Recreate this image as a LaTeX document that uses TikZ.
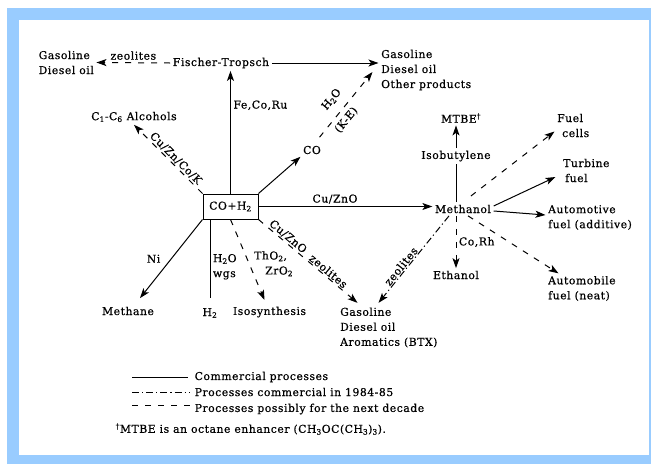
\documentclass[tikz,border=0pt]{standalone}
\usepackage{fontspec}
\setmainfont{DejaVu Serif}[LetterSpace=5,FakeBold=0.6]
\usetikzlibrary{arrows.meta,calc}
\definecolor{framebg}{RGB}{153,204,255}
\newcommand{\subs}[1]{\textsubscript{#1}}

\begin{document}
\begin{tikzpicture}[x=1pt,y=-1pt,
  font=\fontsize{10.8}{15}\selectfont,
  every node/.style={inner sep=2.5pt},
  tip/.style={-{Stealth[length=10pt,width=7pt,inset=2.5pt]}},
  commercial/.style={line width=1pt},
  soon/.style={line width=1pt,dash pattern=on 7pt off 3pt on 1.2pt off 3pt},
  future/.style={line width=1pt,dash pattern=on 6pt off 7pt},
  along/.style={sloped,above,inner sep=1pt}]
\useasboundingbox (0,0) rectangle (651,464);
\fill[white] (0,0) rectangle (651,464);
\fill[framebg] (7,8) rectangle (651,464);
\fill[white] (19,20) rectangle (649,455);

% the feed and products
\node[draw,line width=1pt,minimum width=55pt,minimum height=25pt,inner sep=2pt] (syngas) at (230.5,206.5) {CO+H\subs{2}};
\node (fischer) at (221,63) {Fischer-Tropsch};
\node[anchor=west,align=left] (gasA) at (36,62.5) {Gasoline\\Diesel oil};
\node[anchor=west,align=left] (gasB) at (378.5,70) {Gasoline\\Diesel oil\\Other products};
\node (alcohols) at (134,117) {C\subs{1}-C\subs{6} Alcohols};
\node (co) at (312,150) {CO};
\node (methanol) at (463,209) {Methanol};
\node (isobut) at (456,156) {Isobutylene};
\node (mtbe) at (461,118) {MTBE\textsuperscript{†}};
\node[anchor=west,align=left] (cells) at (554.5,125.5) {Fuel\\\hspace*{5pt}cells};
\node[anchor=west,align=left] (turbine) at (560.5,170.5) {Turbine\\\hspace*{2pt}fuel};
\node[anchor=west,align=left] (automotive) at (545.5,217.5) {Automotive\\fuel (additive)};
\node[anchor=west,align=left] (automobile) at (545.5,288.5) {Automobile\\fuel (neat)};
\node (ethanol) at (456,275) {Ethanol};
\node[anchor=west,align=left] (gasC) at (337.5,327.5) {Gasoline\\Diesel oil\\Aromatics (BTX)};
\node (methane) at (128,311) {Methane};
\node (htwo) at (210,313) {H\subs{2}};
\node (iso) at (269.5,312) {Isosynthesis};

% the routes
\draw[future,tip] (fischer.west) -- (gasA.east) node[midway,above=0pt] {zeolites};
\draw[commercial,tip] (fischer.east) -- (fischer.east -| gasB.west);
\draw[commercial,tip] (syngas.north) -- (syngas.north |- fischer.south) node[pos=.72,right] {Fe,Co,Ru};
\draw[future,tip] (syngas.north west) -- (alcohols.south) node[pos=.45,along] {Cu/Zn/Co/K};
\draw[commercial,tip] (syngas.north east) -- (co.south west);
\draw[future,tip] ([shift={(-4pt,6pt)}]co.north east) -- ([shift={(-6pt,-2pt)}]gasB.west)
  node[pos=.44,along,above=8pt] {H\subs{2}O} node[pos=.36,sloped,below=2pt] {(K-E)};
\draw[commercial,tip] (syngas.east) -- (syngas.east -| methanol.west) node[pos=.44,above] {Cu/ZnO};
\draw[future,tip] (syngas.south east) -- ([shift={(20pt,2pt)}]gasC.north west)
  node[pos=.26,along] {Cu/ZnO} node[pos=.67,along] {zeolites};
\draw[future,tip] (syngas.south) -- ([shift={(-5pt,4pt)}]iso.north)
  node[pos=.55,right=2pt,align=left] {ThO\subs{2},\\\hspace*{11pt}ZrO\subs{2}};
\draw[commercial,shorten >=7pt] (htwo.north |- syngas.south) -- (htwo.north)
  node[pos=.55,right,align=left] {H\subs{2}O\\wgs};
\draw[commercial,tip] (syngas.south west) -- ([shift={(12pt,6pt)}]methane.north) node[midway,left=8pt] {Ni};

% from methanol
\draw[commercial] (isobut.south |- methanol.north) -- (isobut.south);
\draw[commercial,tip] (isobut.north) -- (isobut.north |- mtbe.south);
\draw[future,tip,shorten <=10pt] (methanol.north) -- ([yshift=-6pt]cells.west);
\draw[commercial,tip] ([yshift=3pt]methanol.east) -- ([shift={(-5pt,-6.5pt)}]turbine.west);
\draw[commercial,tip] ([yshift=-2pt]methanol.east) -- ([yshift=2.5pt]automotive.west);
\draw[future,tip] ([xshift=5pt]methanol.south) -- ([xshift=13pt]automobile.north west);
\draw[future,tip] (ethanol.north |- methanol.south) -- (ethanol.north) node[midway,right] {Co,Rh};
\draw[soon,tip] ([xshift=-14pt]methanol.south) -- ([shift={(41pt,2pt)}]gasC.north west)
  node[pos=.62,along] {zeolites};

% the legend
\node[anchor=west] (legA) at (192,377) {Commercial processes};
\node[anchor=west] (legB) at (192,392) {Processes commercial in 1984-85};
\node[anchor=west] (legC) at (192,409) {Processes possibly for the next decade};
\coordinate (la) at (132,377);
\coordinate (lb) at (132,392);
\coordinate (lc) at (132,405);
\draw[commercial] (la) -- ([xshift=-4pt]legA.west);
\draw[soon] (lb) -- ([xshift=-2pt]legB.west);
\draw[future] (lc) -- (legC.west |- lc);
\node[anchor=west] (note) at (113,429) {\textsuperscript{†}MTBE is an octane enhancer (CH\subs{3}OC(CH\subs{3})\subs{3}).};
\end{tikzpicture}
\end{document}
